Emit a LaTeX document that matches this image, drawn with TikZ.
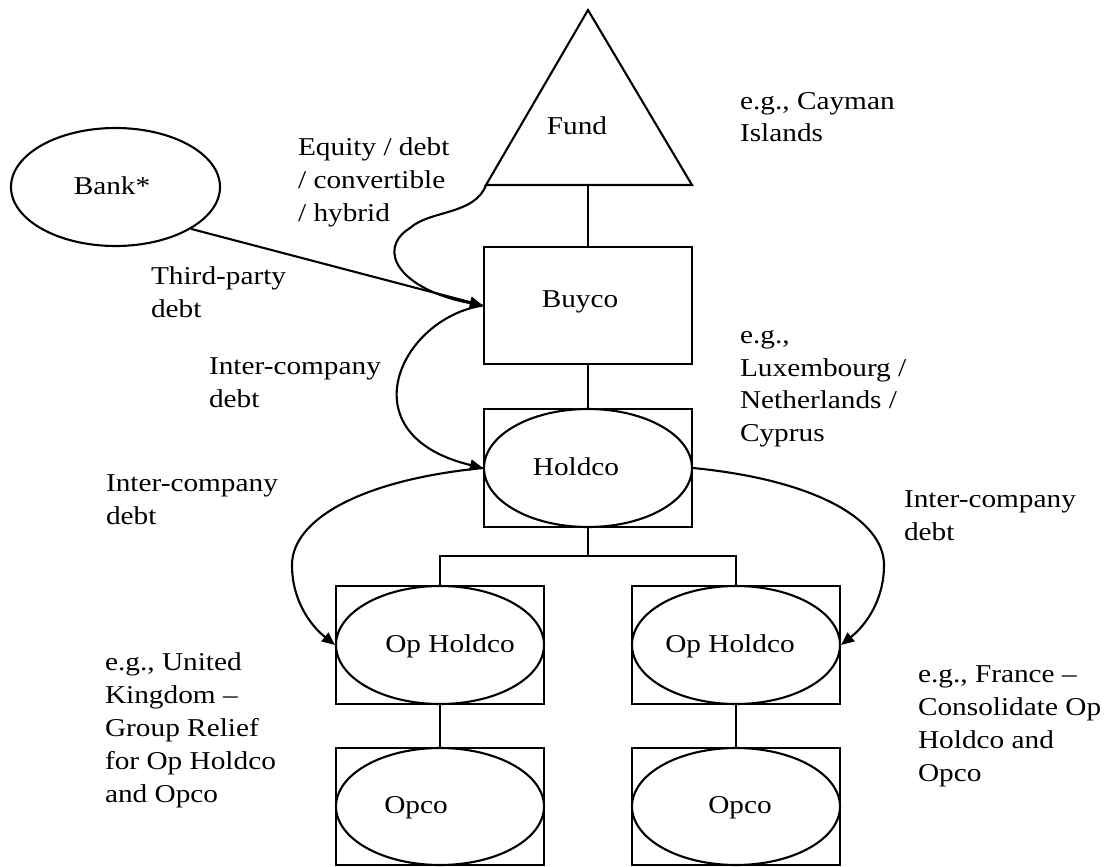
\documentclass[tikz,border=0pt]{standalone}
\usepackage{fontspec}
\setmainfont{Liberation Serif}[FakeStretch=1.14]
\usetikzlibrary{arrows.meta,shapes.geometric}

\begin{document}
\begin{tikzpicture}[x=1pt,y=-1pt,
  line width=2.1pt,
  font=\fontsize{25.7}{32.8}\selectfont,
  entity/.style={draw, rectangle, minimum width=208pt, minimum height=118pt, inner sep=0pt},
  oval/.style={draw, ellipse, minimum width=208pt, minimum height=118pt, inner sep=0pt},
  caption/.style={anchor=base, inner sep=0pt},
  note/.style={anchor=north west, inner sep=0pt, align=left, execute at begin node=\strut},
  flow/.style={-{Triangle[length=13pt,width=11pt]}},
]
\useasboundingbox (0,0) rectangle (1109,867);

% Fund (triangle)
\coordinate (fundtop) at (588,10);
\coordinate (fundleft) at (486,185);
\coordinate (fundright) at (692,185);
\coordinate (fundbase) at (588,185);
\draw[line join=miter] (fundtop) -- (fundleft) -- (fundright) -- cycle;
\node[caption] (fundtext) at (577,134) {Fund};

% Bank
\node[oval, minimum width=209pt] (bank) at (115.5,187) {};
\node[caption] (banktext) at (112,194) {Bank*};

% Buyco
\node[entity, minimum height=117pt] (buyco) at (588,305.5) {};
\node[caption] (buycotext) at (580,307) {Buyco};

% Holdco
\node[entity] (holdco) at (588,468) {};
\node[oval] (holdcooval) at (holdco) {};
\node[caption] (holdcotext) at (576,475) {Holdco};

% Operating holding companies
\node[entity] (opholdL) at (440,645) {};
\node[oval] (opholdLoval) at (opholdL) {};
\node[caption] (opholdLtext) at (450,652) {Op Holdco};
\node[entity] (opholdR) at (736,645) {};
\node[oval] (opholdRoval) at (opholdR) {};
\node[caption] (opholdRtext) at (730,652) {Op Holdco};

% Operating companies
\node[entity, minimum height=117pt] (opcoL) at (440,806.5) {};
\node[oval, minimum height=117pt] (opcoLoval) at (opcoL) {};
\node[caption] (opcoLtext) at (416,813) {Opco};
\node[entity, minimum height=117pt] (opcoR) at (736,806.5) {};
\node[oval, minimum height=117pt] (opcoRoval) at (opcoR) {};
\node[caption] (opcoRtext) at (740,813) {Opco};

% Ownership lines
\coordinate (split) at (588,556);
\draw (fundbase) -- (buyco.north);
\draw (buyco.south) -- (holdco.north);
\draw (holdco.south) -- (split);
\draw (opholdL.north) |- (split) -| (opholdR.north);
\draw (opholdL.south) -- (opcoL.north);
\draw (opholdR.south) -- (opcoR.north);

% Financing flows
\draw[flow] (bank.-29) -- (buyco.west);
\draw[flow] (fundleft) .. controls (475,215) and (430,210) .. (410,228)
  .. controls (375,250) and (400,290) .. (buyco.west);
\draw[flow] (buyco.west) .. controls (400,318) and (345,435) .. (holdco.west);
\draw[flow] (holdco.west) .. controls (360,480) and (292,520) .. (292,565)
  .. controls (292,600) and (310,625) .. (opholdL.west);
\draw[flow] (holdco.east) .. controls (816,480) and (884,520) .. (884,565)
  .. controls (884,600) and (866,625) .. (opholdR.east);

% Notes
\node[note] (cayman) at (739,91) {e.g., Cayman\\Islands};
\node[note] (instr) at (297,137) {Equity / debt\\/ convertible\\/ hybrid};
\node[note] (thirdparty) at (150,266) {Third-party\\debt};
\node[note] (luxnl) at (739,329) {e.g.,\\Luxembourg /\\Netherlands /\\Cyprus};
\node[note] (icA) at (208,357) {Inter-company\\debt};
\node[note] (icB) at (105,474) {Inter-company\\debt};
\node[note] (icC) at (903,490) {Inter-company\\debt};
\node[note] (uk) at (104,652) {e.g., United\\Kingdom --\\Group Relief\\for Op Holdco\\and Opco};
\node[note] (fr) at (917,665) {e.g., France --\\Consolidate Op\\Holdco and\\Opco};
\end{tikzpicture}
\end{document}
